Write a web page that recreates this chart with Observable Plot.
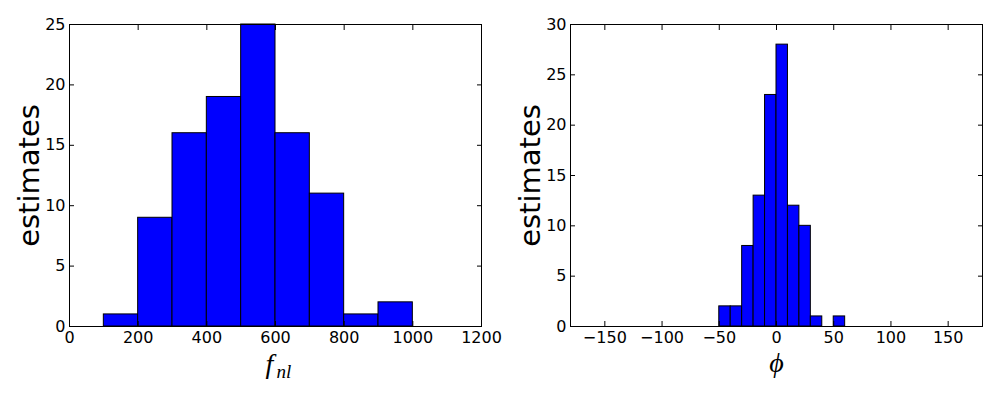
<!DOCTYPE html>
<html>
<head>
<meta charset="utf-8">
<script src="https://cdn.jsdelivr.net/npm/d3@7"></script>
<script src="https://cdn.jsdelivr.net/npm/@observablehq/plot@0.6"></script>
<style>
  html, body { margin: 0; padding: 0; background: #fff; }
  #wrap { display: flex; width: 1000px; height: 400px; }
  svg { overflow: visible; }
</style>
</head>
<body>
<div id="wrap"></div>
<script>
// f_nl histogram
const fnlLo = [100, 200, 300, 400, 500, 600, 700, 800, 900];
const fnlHi = [200, 300, 400, 500, 600, 700, 800, 900, 1000];
const fnlCount = [1, 9, 16, 19, 25, 16, 11, 1, 2];
const fnlTicksX = [0, 200, 400, 600, 800, 1000, 1200];
const fnlTicksY = [0, 5, 10, 15, 20, 25];

// phi histogram
const phiLo = [-50, -40, -30, -20, -10, 0, 10, 20, 30, 40, 50];
const phiHi = [-40, -30, -20, -10, 0, 10, 20, 30, 40, 50, 60];
const phiCount = [2, 2, 8, 13, 23, 28, 12, 10, 1, 0, 1];
const phiTicksX = [-150, -100, -50, 0, 50, 100, 150];
const phiTicksY = [0, 5, 10, 15, 20, 25, 30];

const FONT = "DejaVu Sans";
const MATH = "Liberation Serif";

function panel({lo, hi, count, xDomain, yDomain, ticksX, ticksY, xlab, marginLeft, marginRight}) {
  const data = lo.map((d, i) => ({lo: d, hi: hi[i], n: count[i]})).filter(d => d.n > 0);
  const tickFmt = d => d < 0 ? "\u2212" + Math.abs(d) : String(d);
  const blank = () => "";
  return Plot.plot({
    width: 500,
    height: 400,
    marginLeft,
    marginRight,
    marginTop: 24,
    marginBottom: 74,
    style: {fontFamily: FONT, fontSize: "16px", color: "black", background: "transparent", overflow: "visible"},
    x: {domain: xDomain},
    y: {domain: yDomain},
    marks: [
      Plot.rectY(data, {x1: "lo", x2: "hi", y1: 0, y2: "n", fill: "#0000ff", stroke: "black", strokeWidth: 1}),
      Plot.frame({stroke: "black", strokeWidth: 1}),
      Plot.axisX({anchor: "bottom", ticks: ticksX, tickSize: -5, tickPadding: 10, tickFormat: tickFmt, label: null, fontSize: 16}),
      Plot.axisX({anchor: "top", ticks: ticksX, tickSize: -5, tickFormat: blank, label: null}),
      Plot.axisY({anchor: "left", ticks: ticksY, tickSize: -5, tickPadding: 9, tickFormat: tickFmt, label: null, fontSize: 16}),
      Plot.axisY({anchor: "right", ticks: ticksY, tickSize: -5, tickFormat: blank, label: null}),
      Plot.axisY({anchor: "left", ticks: [], tickSize: 0, label: "estimates", labelAnchor: "center", labelArrow: "none", labelOffset: 51, fontSize: 29}),
      ...xlab
    ]
  });
}

const left = panel({
  lo: fnlLo, hi: fnlHi, count: fnlCount,
  xDomain: [0, 1200], yDomain: [0, 25],
  ticksX: fnlTicksX, ticksY: fnlTicksY,
  marginLeft: 69, marginRight: 19,
  xlab: [
    Plot.text(["f"], {frameAnchor: "bottom", text: d => d, dx: -6, dy: 46, lineAnchor: "bottom", fontSize: 28, fontStyle: "italic", fontFamily: MATH}),
    Plot.text(["nl"], {frameAnchor: "bottom", text: d => d, dx: 1, dy: 51, lineAnchor: "bottom", textAnchor: "start", fontSize: 19, fontStyle: "italic", fontFamily: MATH})
  ]
});

const right = panel({
  lo: phiLo, hi: phiHi, count: phiCount,
  xDomain: [-180, 180], yDomain: [0, 30],
  ticksX: phiTicksX, ticksY: phiTicksY,
  marginLeft: 70, marginRight: 18,
  xlab: [
    Plot.text(["\u03d5"], {frameAnchor: "bottom", text: d => d, dx: 0, dy: 45, lineAnchor: "bottom", fontSize: 28, fontStyle: "italic", fontFamily: MATH})
  ]
});

document.getElementById("wrap").append(left, right);
</script>
</body>
</html>
